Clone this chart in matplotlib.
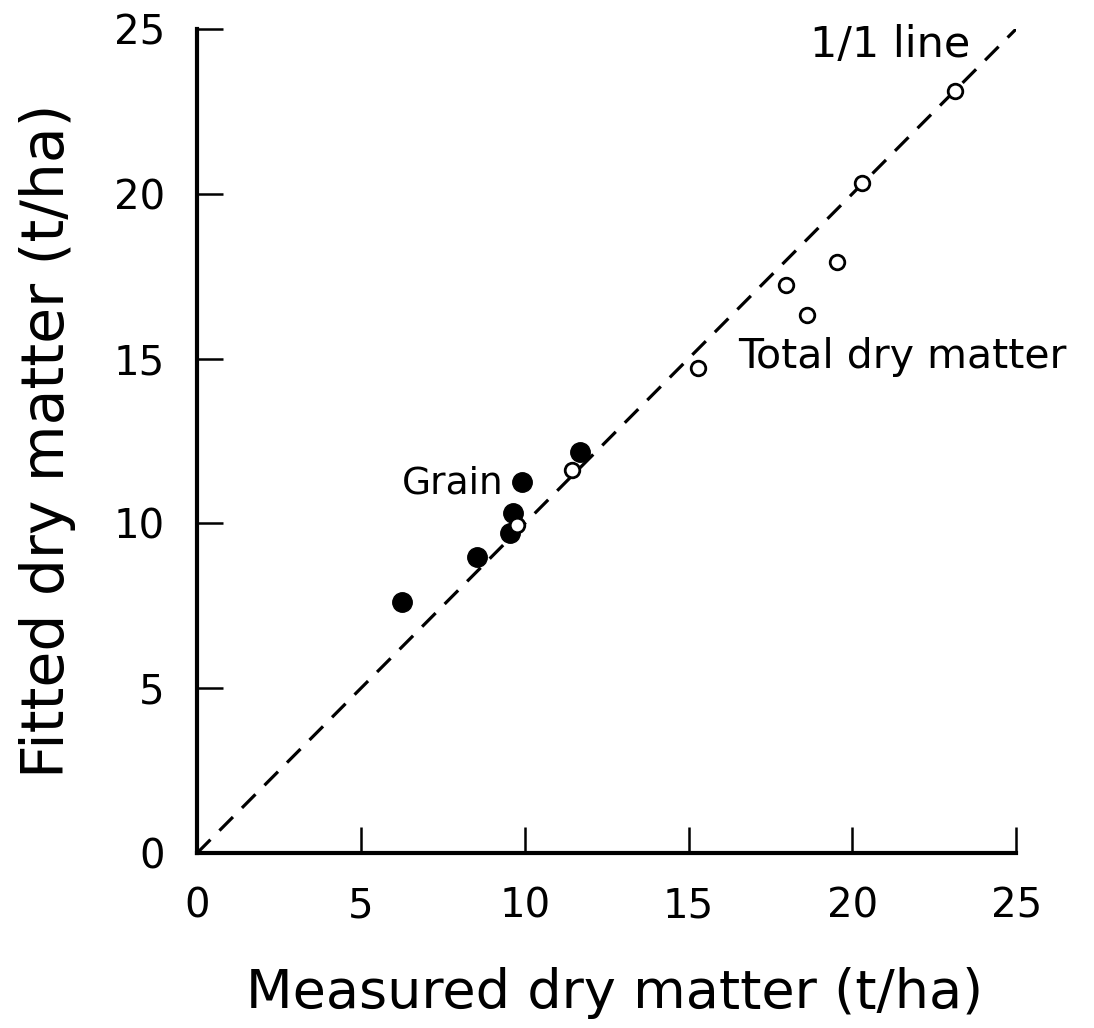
import matplotlib

matplotlib.use("Agg")
import matplotlib.pyplot as plt

# grain (filled) and total dry matter (open), t/ha
grain_measured = [6.25, 8.54, 9.55, 9.64, 9.91, 11.69]
grain_fitted = [7.62, 8.99, 9.70, 10.31, 11.27, 12.18]

total_measured = [9.77, 11.44, 15.30, 17.98, 18.61, 19.53, 20.29, 23.14]
total_fitted = [9.95, 11.62, 14.70, 17.23, 16.32, 17.94, 20.32, 23.10]

ticks = [0, 5, 10, 15, 20, 25]

plt.rcParams["font.family"] = "DejaVu Sans"

fig = plt.figure(figsize=(10.94, 10.28), dpi=100)
ax = fig.add_axes([0.180, 0.170, 0.749, 0.802])

# 1/1 line
ax.plot([0, 25], [0, 25], color="black", linestyle=(0, (6, 4)), linewidth=2.3)

ax.plot(grain_measured, grain_fitted, "o", color="black", markersize=14, linestyle="none")
ax.plot(total_measured, total_fitted, "o", markerfacecolor="white", markeredgecolor="black",
        markeredgewidth=2.0, markersize=10.5, linestyle="none")

ax.text(9.34, 11.2, "Grain", fontsize=27, ha="right", va="center")
ax.text(16.5, 15.05, "Total dry matter", fontsize=29.5, ha="left", va="center")
ax.text(18.7, 24.5, "1/1 line", fontsize=31, ha="left", va="center")

ax.set_xlim(0, 25)
ax.set_ylim(0, 25)
ax.set_xticks(ticks)
ax.set_yticks(ticks)
ax.tick_params(direction="in", length=19, width=1.8, labelsize=29)
ax.tick_params(axis="x", pad=24)
ax.tick_params(axis="y", pad=23)

for side in ["top", "right"]:
    ax.spines[side].set_visible(False)
for side in ["left", "bottom"]:
    ax.spines[side].set_linewidth(3)

ax.set_xlabel("Measured dry matter (t/ha)", fontsize=39)
ax.set_ylabel("Fitted dry matter (t/ha)", fontsize=42)
ax.xaxis.set_label_coords(0.51, -0.138)
ax.yaxis.set_label_coords(-0.148, 0.5)

fig.savefig("out.png", dpi=100)
